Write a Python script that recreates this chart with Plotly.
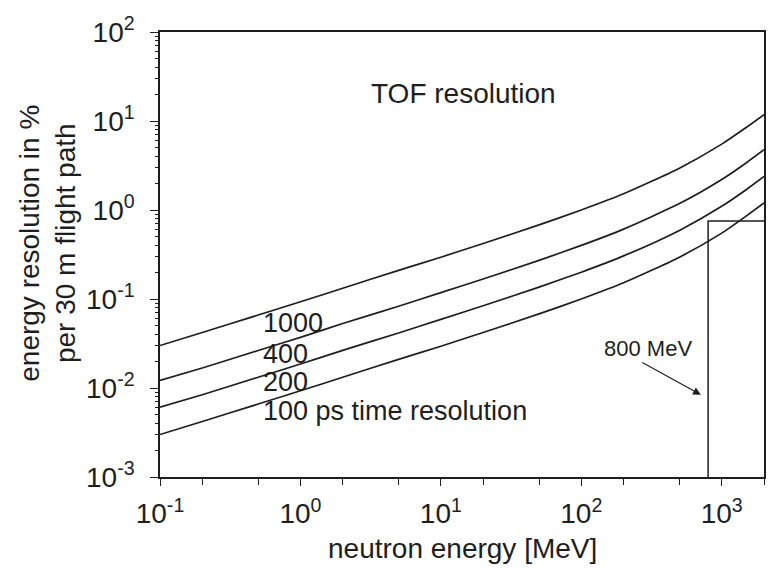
import numpy as np
import plotly.graph_objects as go

# ---- data ----
energy_MeV = [0.1, 0.2, 0.5, 1, 2, 5, 10, 20, 50, 100, 200, 500, 1000, 1500, 2000]
res_1000ps = [0.030, 0.042, 0.066, 0.093, 0.132, 0.21, 0.295, 0.42, 0.68, 1.0, 1.52, 2.95, 5.5, 8.5, 11.8]
res_400ps = [0.0122, 0.0168, 0.0264, 0.037, 0.053, 0.083, 0.118, 0.168, 0.272, 0.40, 0.61, 1.18, 2.2, 3.4, 4.75]
res_200ps = [0.0061, 0.0084, 0.0132, 0.0186, 0.0265, 0.0415, 0.059, 0.084, 0.136, 0.20, 0.305, 0.59, 1.1, 1.7, 2.38]
res_100ps = [0.0030, 0.0042, 0.0066, 0.0093, 0.0132, 0.021, 0.0295, 0.042, 0.068, 0.10, 0.152, 0.295, 0.55, 0.86, 1.2]

box_x = [800, 800, 2000]
box_y = [0.001, 0.75, 0.75]

x_ticks = [0.1, 1, 10, 100, 1000]
x_ticktext = ["10<sup>-1</sup>", "10<sup>0</sup>", "10<sup>1</sup>", "10<sup>2</sup>", "10<sup>3</sup>"]
y_ticks = [0.001, 0.01, 0.1, 1, 10, 100]
y_ticktext = ["10<sup>-3</sup>", "10<sup>-2</sup>", "10<sup>-1</sup>", "10<sup>0</sup>", "10<sup>1</sup>", "10<sup>2</sup>"]
x_minor = [0.2, 0.5, 2, 5, 20, 50, 200, 500, 2000]

curve_labels = ["1000", "400", "200", "100 ps time resolution"]
label_x = [0.52, 0.52, 0.52, 0.52]
label_y = [0.0537, 0.0241, 0.0117, 0.0055]

INK = "#1e1e1e"
FONT = "Liberation Sans, Arial, sans-serif"

fig = go.Figure()
for ys in [res_1000ps, res_400ps, res_200ps, res_100ps]:
    fig.add_trace(go.Scatter(x=energy_MeV, y=ys, mode="lines",
                             line=dict(color=INK, width=1.7, shape="spline", smoothing=0.6),
                             showlegend=False, hoverinfo="skip"))

fig.add_trace(go.Scatter(x=box_x, y=box_y, mode="lines",
                         line=dict(color=INK, width=1.5), showlegend=False,
                         hoverinfo="skip", cliponaxis=False))

x_min, x_max = 0.1, 2000
fig.update_xaxes(type="log", range=[np.log10(x_min), np.log10(x_max)],
                 showline=True, linecolor=INK, linewidth=1.5, mirror=True,
                 showgrid=False, zeroline=False,
                 tickmode="array", tickvals=x_ticks, ticktext=x_ticktext,
                 ticks="outside", ticklen=7, tickwidth=1.3, tickcolor=INK,
                 minor=dict(tickmode="array", tickvals=x_minor, ticks="outside",
                            ticklen=6, tickwidth=1.2, tickcolor=INK),
                 tickfont=dict(family=FONT, size=28, color=INK),
                 ticklabelstandoff=4)
fig.update_yaxes(type="log", range=[-3, 2],
                 showline=True, linecolor=INK, linewidth=1.5, mirror=True,
                 showgrid=False, zeroline=False,
                 tickmode="array", tickvals=y_ticks, ticktext=y_ticktext,
                 ticks="outside", ticklen=8, tickwidth=1.3, tickcolor=INK,
                 minor=dict(ticks="outside", dtick="D1", ticklen=3, tickwidth=1, tickcolor=INK),
                 tickfont=dict(family=FONT, size=28, color=INK),
                 ticklabelstandoff=10)

ann = []
for t, lx, ly in zip(curve_labels, label_x, label_y):
    ann.append(dict(x=np.log10(lx), y=np.log10(ly), xref="x", yref="y", text=t,
                    showarrow=False, xanchor="left", yanchor="middle",
                    font=dict(family=FONT, size=27, color=INK)))
ann.append(dict(x=np.log10(14.5), y=np.log10(20.6), xref="x", yref="y", text="TOF resolution",
                showarrow=False, xanchor="center", yanchor="middle",
                font=dict(family=FONT, size=28, color=INK)))
ann.append(dict(x=np.log10(298), y=np.log10(0.028), xref="x", yref="y", text="800 MeV",
                showarrow=False, xanchor="center", yanchor="middle",
                font=dict(family=FONT, size=22, color=INK)))
ann.append(dict(x=np.log10(710), y=np.log10(0.0084), xref="x", yref="y", text="",
                showarrow=True, arrowhead=2, arrowsize=1.3, arrowwidth=1.2, arrowcolor=INK,
                ax=-60, ay=-33, standoff=0))
ann.append(dict(x=0.5, y=-0.16, xref="paper", yref="paper", text="neutron energy [MeV]",
                showarrow=False, xanchor="center", yanchor="middle",
                font=dict(family=FONT, size=28, color=INK)))
ann.append(dict(x=-(160 - 47) / 606, y=0.525, xref="paper", yref="paper",
                text="energy resolution in %<br>per 30 m flight path", textangle=-90,
                showarrow=False, xanchor="center", yanchor="middle",
                font=dict(family=FONT, size=28, color=INK)))

fig.update_layout(width=768, height=568, margin=dict(l=160, r=2, t=32, b=91),
                  paper_bgcolor="white", plot_bgcolor="white", annotations=ann)

fig.write_html("out.html")
